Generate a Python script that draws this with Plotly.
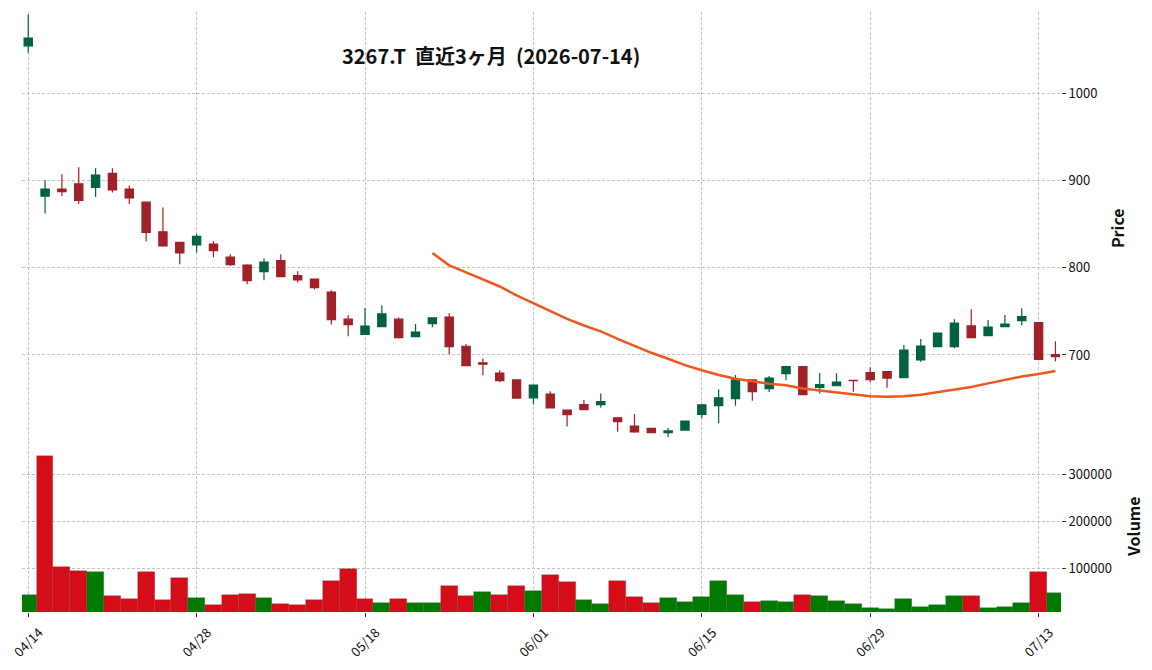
import pandas as pd
import plotly.graph_objects as go

# ---------------- data ----------------
dates = [
    "2026-04-14", "2026-04-15", "2026-04-16", "2026-04-17", "2026-04-20", "2026-04-21",
    "2026-04-22", "2026-04-23", "2026-04-24", "2026-04-27", "2026-04-28", "2026-04-30",
    "2026-05-01", "2026-05-07", "2026-05-08", "2026-05-11", "2026-05-12", "2026-05-13",
    "2026-05-14", "2026-05-15", "2026-05-18", "2026-05-19", "2026-05-20", "2026-05-21",
    "2026-05-22", "2026-05-25", "2026-05-26", "2026-05-27", "2026-05-28", "2026-05-29",
    "2026-06-01", "2026-06-02", "2026-06-03", "2026-06-04", "2026-06-05", "2026-06-08",
    "2026-06-09", "2026-06-10", "2026-06-11", "2026-06-12", "2026-06-15", "2026-06-16",
    "2026-06-17", "2026-06-18", "2026-06-19", "2026-06-22", "2026-06-23", "2026-06-24",
    "2026-06-25", "2026-06-26", "2026-06-29", "2026-06-30", "2026-07-01", "2026-07-02",
    "2026-07-03", "2026-07-06", "2026-07-07", "2026-07-08", "2026-07-09", "2026-07-10",
    "2026-07-13", "2026-07-14",
]
opens = [
    1054, 882, 890, 896, 892, 908, 890, 875, 841, 829,
    826, 827, 812, 803, 795.4, 808, 791, 787, 772, 741,
    723.7, 732.4, 741, 721, 736, 743.5, 710, 691, 679.4, 671.4,
    651, 655.3, 637, 643.2, 643.2, 628, 618.7, 616, 611, 614,
    632, 642, 650, 671.4, 661.4, 678.6, 686.6, 663, 664.8, 671,
    679.7, 681, 674, 694.3, 709.5, 709.5, 733.5, 722.1, 732.4, 739.3,
    737, 700.4,
]
highs = [
    1090, 900, 907, 915, 914, 914, 894, 875.5, 869, 829.5,
    838.5, 830.5, 815.3, 804, 810.7, 815.3, 796, 787.5, 774, 745.4,
    753.8, 757, 743, 735.5, 743, 747.7, 712.6, 696, 682.5, 672,
    666, 658.4, 637.5, 648.5, 656, 628.5, 632.4, 616.5, 616.4, 624.5,
    643.5, 660.7, 677, 672, 676, 687.7, 687, 679.4, 679, 671.2,
    686, 681.5, 711.4, 718.3, 725.5, 740.9, 752.3, 740, 745.8, 753.5,
    737.5, 715.7,
]
lows = [
    1046, 862, 882, 873, 881, 886, 873, 830, 824, 804,
    817.5, 812, 802, 781, 785.5, 789, 783, 775, 735, 721.4,
    723, 732, 719, 720, 731.7, 700.8, 687, 676.7, 668.8, 650,
    643.5, 639, 618, 637, 640, 612, 611, 610.3, 606, 613.5,
    627.5, 621.8, 642, 647.7, 657.6, 671, 654, 656, 664.5, 658,
    668.8, 662.5, 673.5, 692.3, 709, 707.7, 719.5, 721.5, 732, 734,
    694, 692.8,
]
closes = [
    1063, 890, 887, 877, 906, 889, 880, 840.5, 825, 817,
    836, 819.4, 803.4, 785, 806.5, 789.6, 786, 777, 740.4, 734.7,
    733, 747, 720, 726.3, 742.4, 709.5, 687.7, 689.4, 670.6, 650.7,
    665.6, 639.3, 631.6, 637.4, 646.6, 623.7, 612, 611, 613, 624.4,
    643, 651, 671.4, 658, 673.6, 686.6, 654.5, 666, 669, 670.5,
    671.7, 673.6, 705.7, 710.3, 725.2, 736.6, 719.8, 732, 735.5, 744,
    695, 698,
]
volumes = [
    43200, 339000, 102800, 94300, 92100, 41100, 34700, 92100, 32600, 79400,
    36800, 21900, 43200, 45300, 36800, 24000, 21900, 32600, 73000, 98500,
    34700, 26200, 34700, 26200, 26200, 62300, 41100, 49600, 43200, 62300,
    51700, 85700, 70800, 32600, 24000, 73000, 38900, 26200, 36800, 28300,
    38900, 73000, 43200, 28300, 30400, 28300, 43200, 41100, 30400, 24000,
    15500, 13400, 34700, 17700, 21900, 41100, 41100, 15500, 17700, 26200,
    92100, 47400,
]
price_ticks = [700, 800, 900, 1000]
volume_ticks = [100000, 200000, 300000]
volume_ticktext = ["100000", "200000", "300000"]
ma_window = 25
title_text = "3267.T  直近3ヶ月  (2026-07-14)"

# ---------------- derived ----------------
ma = pd.Series(closes).rolling(ma_window).mean()
vol_colors = []
for i, c in enumerate(closes):
    up = True if i == 0 else c >= closes[i - 1]
    vol_colors.append("#007a00" if up else "#d50d18")

tick_idx = list(range(0, len(dates), 10))
tickvals = [dates[i] for i in tick_idx]
ticktext = [dates[i][5:7] + "/" + dates[i][8:10] for i in tick_idx]

FONT = "Noto Sans CJK JP"
GRID = "#c4c4c4"

fig = go.Figure()
fig.add_trace(go.Candlestick(
    x=dates, open=opens, high=highs, low=lows, close=closes,
    increasing=dict(line=dict(color="#006340", width=1.2), fillcolor="#006340"),
    decreasing=dict(line=dict(color="#A02128", width=1.2), fillcolor="#A02128"),
    whiskerwidth=0, xaxis="x", yaxis="y", showlegend=False,
))
fig.add_trace(go.Scatter(
    x=dates, y=ma, mode="lines", line=dict(color="#f0561d", width=2.5),
    xaxis="x", yaxis="y", showlegend=False,
))
fig.add_trace(go.Bar(
    x=dates, y=volumes, marker=dict(color=vol_colors, line=dict(color="rgba(60,60,60,0.35)", width=0.6)),
    width=1.0, xaxis="x2", yaxis="y2", showlegend=False,
))

common_x = dict(
    type="category", range=[-0.37, 61.33], autorange=False, showgrid=True, gridcolor=GRID,
    griddash="3px,2px", gridwidth=1, showline=False, zeroline=False,
    tickvals=tickvals, ticktext=ticktext, automargin=False,
)
common_y = dict(
    side="right", showgrid=True, gridcolor=GRID, griddash="3px,2px", gridwidth=1,
    showline=False, zeroline=False, ticks="outside", ticklen=4, tickcolor="#333",
    tickfont=dict(family=FONT, size=13, color="#111"), automargin=False,
)

fig.update_layout(
    width=1152, height=670,
    margin=dict(l=22, r=91, t=12, b=58, autoexpand=False),
    paper_bgcolor="white", plot_bgcolor="white",
    font=dict(family=FONT, color="#111"),
    bargap=0,
    xaxis=dict(common_x, domain=[0, 1], anchor="y", showticklabels=False,
               rangeslider=dict(visible=False), matches="x2", ticks=""),
    xaxis2=dict(common_x, domain=[0, 1], anchor="y2", ticks="outside", ticklen=4,
                tickcolor="#333", tickangle=-45, ticklabelshift=11, ticklabelstandoff=3,
                tickfont=dict(family=FONT, size=13, color="#111")),
    yaxis=dict(common_y, domain=[0.285, 1], range=[601.5, 1092.8], tickvals=price_ticks),
    yaxis2=dict(common_y, domain=[0, 0.285], range=[7700, 372000],
                tickvals=volume_ticks, ticktext=volume_ticktext),
    annotations=[
        dict(text="<b>" + title_text + "</b>", xref="paper", yref="paper",
             x=0.4514, y=0.928, showarrow=False, xanchor="center", yanchor="middle",
             font=dict(family=FONT, size=20, color="#111")),
        dict(text="<b>Price</b>", xref="paper", yref="paper", x=1.054, y=0.64,
             showarrow=False, textangle=-90, xanchor="center", yanchor="middle",
             font=dict(family=FONT, size=16, color="#111")),
        dict(text="<b>Volume</b>", xref="paper", yref="paper", x=1.0693, y=0.1417,
             showarrow=False, textangle=-90, xanchor="center", yanchor="middle",
             font=dict(family=FONT, size=16, color="#111")),
    ],
)

fig.write_html("out.html")
